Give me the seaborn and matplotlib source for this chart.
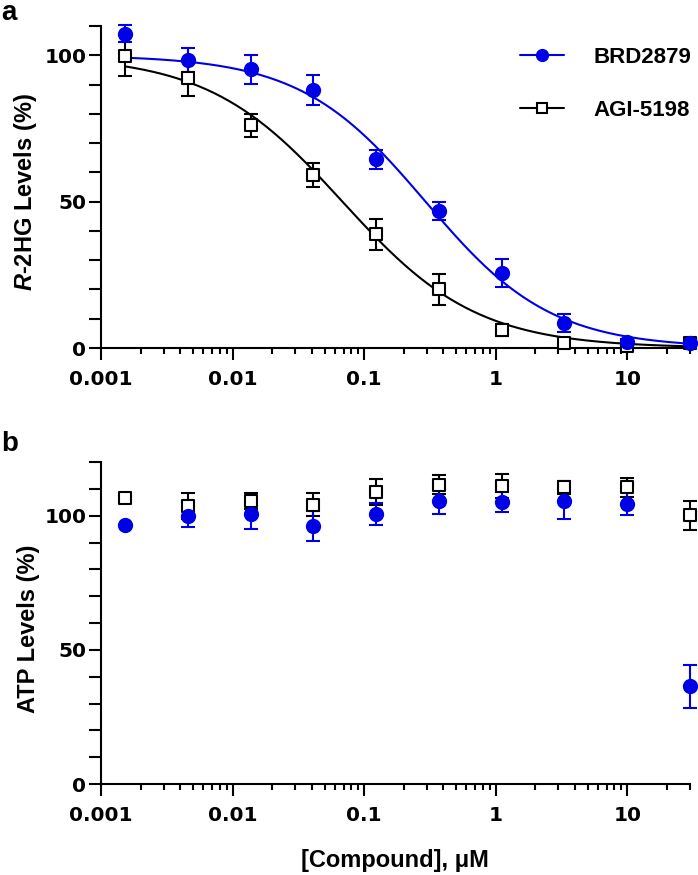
import numpy as np
import pandas as pd
import matplotlib
matplotlib.use("Agg")
import matplotlib.pyplot as plt
import seaborn as sns
from matplotlib.ticker import MultipleLocator, FixedLocator, LogLocator, NullFormatter, FuncFormatter
from matplotlib.lines import Line2D

# ---------------- data ----------------
conc = np.array([0.001524, 0.004572, 0.01372, 0.04115, 0.1235, 0.3704, 1.111, 3.333, 10.0, 30.0])

brd_r2hg = np.array([107.4, 98.4, 95.2, 88.1, 64.4, 46.8, 25.6, 8.5, 2.2, 1.6])
brd_r2hg_err = np.array([3.0, 4.0, 5.0, 5.0, 3.4, 3.0, 4.9, 3.0, 1.0, 1.0])
agi_r2hg = np.array([99.8, 92.1, 76.1, 59.1, 38.8, 20.1, 6.2, 1.8, 0.8, 1.8])
agi_r2hg_err = np.array([7.0, 6.0, 4.0, 4.0, 5.4, 5.3, 2.0, 1.0, 0.5, 1.0])

brd_atp = np.array([96.6, 99.9, 100.7, 96.0, 100.7, 105.4, 105.0, 105.3, 104.5, 36.4])
brd_atp_err = np.array([0.0, 4.0, 5.5, 5.6, 4.0, 4.7, 3.7, 6.4, 4.4, 7.9])
agi_atp = np.array([106.4, 103.6, 105.3, 104.1, 108.8, 111.6, 110.9, 110.6, 110.6, 100.1])
agi_atp_err = np.array([0.0, 5.0, 3.0, 4.4, 5.0, 3.5, 4.5, 2.5, 3.5, 5.3])

# dose-response fit parameters (top, bottom, IC50, Hill slope)
brd_fit = (100.0, 0.0, 0.293, 0.91)
agi_fit = (100.0, 0.0, 0.0684, 0.85)

series = ["BRD2879", "AGI-5198"]
x_ticks = [0.001, 0.01, 0.1, 1, 10]
y_ticks = [0, 50, 100]

BLUE = "#0000e6"

# ---------------- style ----------------
sns.set_style("ticks", {"axes.edgecolor": "black", "xtick.color": "black", "ytick.color": "black",
                        "text.color": "black", "axes.labelcolor": "black"})
plt.rcParams["font.family"] = ["Liberation Sans", "DejaVu Sans"]
plt.rcParams["font.weight"] = "bold"
plt.rcParams["mathtext.fontset"] = "custom"
plt.rcParams["mathtext.it"] = "Liberation Sans:italic:bold"
plt.rcParams["mathtext.rm"] = "Liberation Sans:bold"
plt.rcParams["mathtext.bf"] = "Liberation Sans:bold"

W, H = 698, 875
fig = plt.figure(figsize=(W / 100, H / 100), dpi=100)
ax_a = fig.add_axes([101 / W, 1 - 348 / H, 589 / W, 322 / H])
ax_b = fig.add_axes([101 / W, 1 - 784 / H, 589 / W, 322 / H])


def hill(x, top, bottom, ic50, h):
    return bottom + (top - bottom) / (1 + (x / ic50) ** h)


def style_axis(ax, ymax):
    ax.set_xscale("log")
    ax.set_xlim(0.001, 30)
    ax.set_ylim(0, ymax)
    ax.yaxis.set_major_locator(FixedLocator(y_ticks))
    ax.yaxis.set_minor_locator(MultipleLocator(10))
    ax.xaxis.set_major_locator(FixedLocator(x_ticks))
    ax.xaxis.set_minor_locator(LogLocator(base=10, subs=np.arange(2, 10), numticks=100))
    ax.xaxis.set_major_formatter(FuncFormatter(lambda v, p: f"{v:g}"))
    ax.xaxis.set_minor_formatter(NullFormatter())
    for s in ["top", "right"]:
        ax.spines[s].set_visible(False)
    for s in ["left", "bottom"]:
        ax.spines[s].set_linewidth(1.5)
        ax.spines[s].set_color("black")
    ax.tick_params(axis="y", which="both", length=9, width=1.5, direction="out", labelsize=14.5, pad=1.5)
    ax.tick_params(axis="x", which="major", length=8.5, width=1.5, direction="out", labelsize=14.5, pad=7)
    ax.tick_params(axis="x", which="minor", length=4.5, width=1.5, direction="out")
    ax.set_xlabel("")


def draw_series(ax, y, err, color, marker, face, size, fit=None):
    if fit is not None:
        xs = np.logspace(np.log10(conc[0]), np.log10(conc[-1]), 300)
        sns.lineplot(x=xs, y=hill(xs, *fit), color=color, lw=1.5, ax=ax, zorder=2)
    m = err > 0
    eb = ax.errorbar(conc[m], y[m], yerr=err[m], fmt="none", ecolor=color, elinewidth=1.5,
                     capsize=4.7, capthick=1.5, zorder=3)
    for art in eb.get_children():
        art.set_clip_on(False)
    sns.scatterplot(x=conc, y=y, marker=marker, s=size, color=face, edgecolor=color,
                    linewidth=1.5, ax=ax, zorder=4, clip_on=False, legend=False)


# panel a
draw_series(ax_a, agi_r2hg, agi_r2hg_err, "black", "s", "white", 80, agi_fit)
draw_series(ax_a, brd_r2hg, brd_r2hg_err, BLUE, "o", BLUE, 90, brd_fit)
style_axis(ax_a, 110)
ax_a.set_ylabel(r"$R$-2HG Levels (%)", fontsize=17, fontweight="bold")
ax_a.yaxis.set_label_coords(-0.105, 0.483)

handles = [
    Line2D([], [], color=BLUE, lw=1.5, marker="o", ms=8.5, mfc=BLUE, mec=BLUE),
    Line2D([], [], color="black", lw=1.5, marker="s", ms=7.5, mfc="white", mec="black", mew=1.5),
]
ax_a.legend(handles, series, loc="upper left", bbox_to_anchor=(0.711, 0.934), frameon=False,
            fontsize=16, handlelength=2.0, handletextpad=1.3, labelspacing=1.43,
            borderpad=0, borderaxespad=0)

# panel b
draw_series(ax_b, agi_atp, agi_atp_err, "black", "s", "white", 80)
draw_series(ax_b, brd_atp, brd_atp_err, BLUE, "o", BLUE, 90)
style_axis(ax_b, 120)
ax_b.set_ylabel("ATP Levels (%)", fontsize=17, fontweight="bold")
ax_b.yaxis.set_label_coords(-0.104, 0.483)

fig.text(395 / W, 1 - 860 / H, "[Compound], μM", ha="center", va="center", fontsize=17, fontweight="bold")
fig.text(1 / W, 1 - 20.5 / H, "a", ha="left", va="baseline", fontsize=20, fontweight="bold")
fig.text(1 / W, 1 - 451 / H, "b", ha="left", va="baseline", fontsize=20, fontweight="bold")

fig.canvas.draw()
for ax in (ax_a, ax_b):
    for lab in ax.get_xticklabels() + ax.get_yticklabels():
        lab.set_fontfamily("DejaVu Sans")
        lab.set_fontweight("bold")

fig.savefig("out.png", dpi=100)
